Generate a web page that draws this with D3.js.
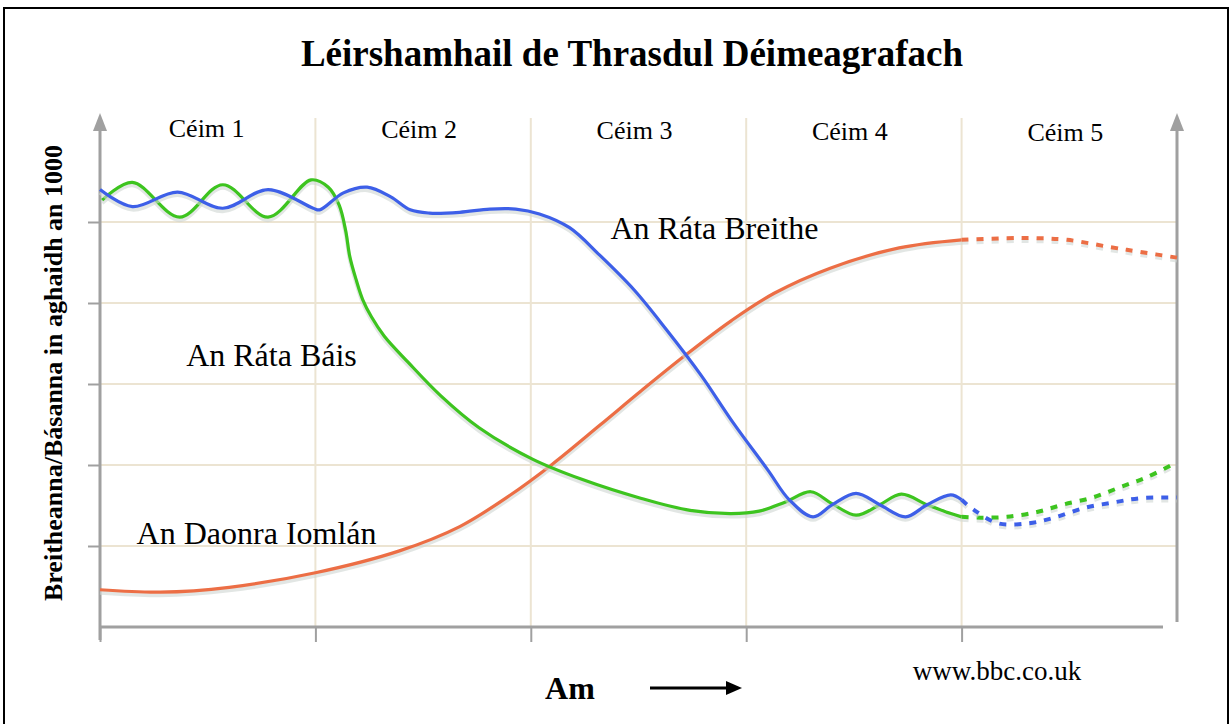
<!DOCTYPE html>
<html>
<head>
<meta charset="utf-8">
<script src="https://cdn.jsdelivr.net/npm/d3@7"></script>
<style>
  body { margin: 0; background: #fff; }
  text { font-family: "Liberation Serif", "Times New Roman", serif; }
</style>
</head>
<body>
<svg id="chart" width="1231" height="724"></svg>
<script>
// Stages along the time axis.
const stages = ['Céim 1', 'Céim 2', 'Céim 3', 'Céim 4', 'Céim 5'];
const gridRates = [10, 20, 30, 40, 50];

// [time (stages), rate per 1000]
const birthRate = [
    [0, 54], [0.15, 51.9], [0.36, 53.7], [0.57, 51.7], [0.78, 54], [0.99, 51.7],
    [1.02, 51.5], [1.13, 53.6], [1.24, 54.3], [1.35, 53.1], [1.44, 51.5], [1.53, 51.1],
    [1.67, 51.2], [1.81, 51.6], [1.93, 51.6], [2.04, 51], [2.18, 49.3], [2.32, 45.9],
    [2.48, 41.6], [2.63, 36.7], [2.79, 31.1], [2.94, 25.2], [3.1, 19.4], [3.2, 15.7],
    [3.31, 13.6], [3.4, 15.1], [3.51, 16.5], [3.62, 15.1], [3.74, 13.6], [3.84, 15.1],
    [3.95, 16.3], [4, 15.7]
];
const birthRateFuture = [
    [4, 15.7], [4.06, 14.4], [4.17, 12.8], [4.31, 12.8], [4.43, 13.5], [4.57, 14.7],
    [4.71, 15.4], [4.83, 15.9], [5, 16]
];
const deathRate = [
    [0.01, 52.7], [0.15, 54.9], [0.37, 50.6], [0.57, 54.6], [0.78, 50.6], [0.98, 55.2],
    [1.06, 54.3], [1.11, 52.1], [1.14, 49], [1.16, 45.7], [1.19, 42.8], [1.22, 40.4],
    [1.26, 38.3], [1.32, 35.9], [1.43, 32.7], [1.58, 28.6], [1.76, 24.6], [2.01, 20.7],
    [2.24, 18.2], [2.51, 15.9], [2.74, 14.4], [2.93, 14], [3.06, 14.3], [3.18, 15.4],
    [3.3, 16.7], [3.4, 15.2], [3.51, 13.8], [3.62, 15.1], [3.72, 16.4], [3.84, 15.1],
    [3.95, 14], [4, 13.6]
];
const deathRateFuture = [
    [4, 13.6], [4.09, 13.5], [4.21, 13.6], [4.35, 14.2], [4.47, 15.1], [4.61, 16],
    [4.74, 17.3], [4.86, 18.5], [4.99, 20.2]
];
const population = [
    [0, 4.6], [0.28, 4.3], [0.6, 4.9], [1, 6.7], [1.39, 9.4], [1.67, 12.4], [1.9, 16.2],
    [2.1, 20.1], [2.32, 24.9], [2.51, 29.1], [2.72, 33.6], [2.93, 37.8], [3.13, 41.2],
    [3.39, 44.3], [3.71, 46.8], [4, 47.8]
];
const populationFuture = [
    [4, 47.8], [4.21, 48], [4.35, 48], [4.49, 47.8], [4.69, 46.9], [4.83, 46.3], [5, 45.6]
];

const seriesLabels = [
    {text: 'An Ráta Breithe', t: 2.37, v: 47.9},
    {text: 'An Ráta Báis', t: 0.4, v: 32.2},
    {text: 'An Daonra Iomlán', t: 0.17, v: 10.2}
];

const COLORS = {birth: '#3d5fe8', death: '#3dc41f', pop: '#ec6e45'};

const svg = d3.select('#chart');

// Frame.
svg.append('rect')
    .attr('x', 4).attr('y', 8)
    .attr('width', 1224).attr('height', 730)
    .attr('fill', 'none').attr('stroke', '#000').attr('stroke-width', 2);

const x = d3.scaleLinear().domain([0, 5]).range([100, 1177]);
const y = d3.scaleLinear().domain([0, 60]).range([627, 141]);

// Grid.
svg.append('g')
    .selectAll('line')
    .data(d3.range(1, 5))
    .join('line')
    .attr('x1', d => x(d)).attr('x2', d => x(d))
    .attr('y1', 118).attr('y2', y(0))
    .attr('stroke', '#ece4d2').attr('stroke-width', 2);
svg.append('g')
    .selectAll('line')
    .data(gridRates)
    .join('line')
    .attr('x1', x(0)).attr('x2', x(5))
    .attr('y1', d => y(d)).attr('y2', d => y(d))
    .attr('stroke', '#ece4d2').attr('stroke-width', 2);

// Axes.
const axisColor = '#a0a0a0';
const axes = svg.append('g').attr('stroke', axisColor).attr('stroke-width', 3);
axes.append('line')
    .attr('x1', x(0)).attr('x2', x(0)).attr('y1', 640).attr('y2', 128);
axes.append('line')
    .attr('x1', x(5)).attr('x2', x(5)).attr('y1', 622).attr('y2', 128);
axes.append('line')
    .attr('x1', x(0)).attr('x2', 1163).attr('y1', y(0)).attr('y2', y(0));
svg.append('g')
    .selectAll('path')
    .data([0, 5])
    .join('path')
    .attr('d', d => `M${x(d)},113 L${x(d) + 7},131 L${x(d) - 7},131 Z`)
    .attr('fill', axisColor);

const xAxis = d3.axisBottom(x).tickValues(d3.range(0, 5)).tickSize(15).tickFormat('');
const gx = svg.append('g').attr('transform', `translate(0,${y(0)})`).call(xAxis);
gx.select('.domain').remove();
gx.selectAll('line').attr('stroke', axisColor).attr('stroke-width', 2);

const yAxis = d3.axisLeft(y).tickValues(gridRates).tickSize(12).tickFormat('');
const gy = svg.append('g').attr('transform', `translate(${x(0)},0)`).call(yAxis);
gy.select('.domain').remove();
gy.selectAll('line').attr('stroke', axisColor).attr('stroke-width', 2);

// Stage labels.
svg.append('g')
    .selectAll('text')
    .data(stages)
    .join('text')
    .attr('x', (d, i) => x(i + 0.5) - (i === 0 ? 1 : 4))
    .attr('y', (d, i) => 137 + i)
    .attr('text-anchor', 'middle')
    .attr('font-size', 26)
    .text(d => d);

// Lines.
const line = d3.line()
    .x(d => x(d[0]))
    .y(d => y(d[1]))
    .curve(d3.curveCatmullRom.alpha(0.5));

const drawSeries = (data, color, dashed) => {
    svg.append('path')
        .datum(data)
        .attr('d', line)
        .attr('transform', 'translate(0,3)')
        .attr('fill', 'none')
        .attr('stroke', '#cfd6d2')
        .attr('stroke-width', 4)
        .attr('stroke-dasharray', dashed ? '7,8' : null)
        .attr('opacity', 0.6);
    svg.append('path')
        .datum(data)
        .attr('d', line)
        .attr('fill', 'none')
        .attr('stroke', color)
        .attr('stroke-width', dashed ? 4 : 3.2)
        .attr('stroke-dasharray', dashed ? '7,8' : null);
};

drawSeries(population, COLORS.pop, false);
drawSeries(populationFuture, COLORS.pop, true);
drawSeries(deathRate, COLORS.death, false);
drawSeries(deathRateFuture, COLORS.death, true);
drawSeries(birthRate, COLORS.birth, false);
drawSeries(birthRateFuture, COLORS.birth, true);

// Series labels.
svg.append('g')
    .selectAll('text')
    .data(seriesLabels)
    .join('text')
    .attr('x', d => x(d.t))
    .attr('y', d => y(d.v))
    .attr('font-size', 32)
    .text(d => d.text);

// Title.
svg.append('text')
    .attr('x', 632).attr('y', 66)
    .attr('text-anchor', 'middle')
    .attr('font-size', 37)
    .attr('font-weight', 'bold')
    .text('Léirshamhail de Thrasdul Déimeagrafach');

// Y label.
svg.append('text')
    .attr('transform', 'translate(62,373) rotate(-90)')
    .attr('text-anchor', 'middle')
    .attr('font-size', 26)
    .attr('font-weight', 'bold')
    .text('Breitheanna/Básanna in aghaidh an 1000');

// X label with arrow.
svg.append('text')
    .attr('x', 570).attr('y', 699)
    .attr('text-anchor', 'middle')
    .attr('font-size', 32)
    .attr('font-weight', 'bold')
    .text('Am');
svg.append('line')
    .attr('x1', 650).attr('x2', 728).attr('y1', 688).attr('y2', 688)
    .attr('stroke', '#000').attr('stroke-width', 3);
svg.append('path')
    .attr('d', 'M726,681 L742,688 L726,695 Z')
    .attr('fill', '#000');

// Source.
svg.append('text')
    .attr('x', 997).attr('y', 680)
    .attr('text-anchor', 'middle')
    .attr('font-size', 27)
    .text('www.bbc.co.uk');
</script>
</body>
</html>
